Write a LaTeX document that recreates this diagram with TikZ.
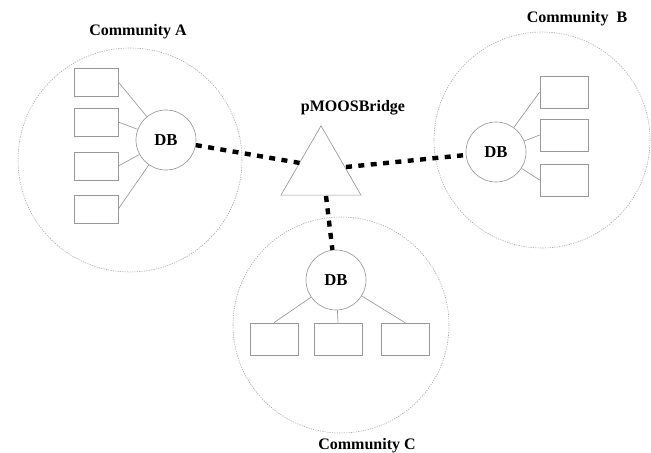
\documentclass[tikz,border=0pt]{standalone}
\usepackage{fontspec}
\setmainfont{Liberation Serif}
\usetikzlibrary{shapes.geometric}

\tikzset{
  community/.style={draw=gray!70, line width=0.45pt, dash pattern=on 0.9pt off 0.9pt},
  dbnode/.style={circle, draw=gray!80, line width=0.5pt, minimum size=45pt, inner sep=0pt, font=\fontsize{12.5}{14}\selectfont\bfseries},
  procA/.style={rectangle, draw=gray!80, line width=0.5pt, minimum width=33pt, minimum height=21pt, inner sep=0pt},
  proc/.style={rectangle, draw=gray!80, line width=0.5pt, minimum width=36pt, minimum height=24pt, inner sep=0pt},
  link/.style={draw=gray!80, line width=0.5pt},
  bridge/.style={regular polygon, regular polygon sides=3, draw=gray!80, line width=0.5pt, minimum size=69.3pt, inner sep=0pt},
  buslink/.style={draw=black, line width=3.3pt, dash pattern=on 4.5pt off 4.8pt},
  title/.style={font=\fontsize{12}{14}\selectfont\bfseries, inner sep=0pt}
}

\begin{document}
\begin{tikzpicture}[x=0.75pt, y=-0.75pt]
\useasboundingbox (0,0) rectangle (651,453);

% community boundaries
\draw[community] (130,160) circle[radius=112];
\draw[community] (542,140) circle[radius=108];
\draw[community] (341,325) circle[radius=108];

% community titles
\node[title] (labA) at (138,32) {Community A};
\node[title] (labB) at (577,19) {Community~~B};
\node[title] (labC) at (367,446) {Community C};
\node[title] (labBridge) at (353,108) {pMOOSBridge};

% bridge
\node[bridge] (bridge) at (321,172) {};
\coordinate (bL) at (300,163);
\coordinate (bR) at (346,167);
\coordinate (bB) at (326,196);

% community A
\node[dbnode] (dbA) at (166,140) {DB};
\node[procA] (a1) at (96,82) {};
\node[procA] (a2) at (96,122) {};
\node[procA] (a3) at (96,166) {};
\node[procA] (a4) at (96,209) {};
\foreach \n in {a1,a2,a3,a4} \draw[link] (\n.east) -- (dbA);

% community B
\node[dbnode] (dbB) at (496,152) {DB};
\node[proc] (b1) at (564,92) {};
\node[proc] (b2) at (564,135) {};
\node[proc] (b3) at (564,180) {};
\foreach \n in {b1,b2,b3} \draw[link] (\n.west) -- (dbB);

% community C
\node[dbnode] (dbC) at (336,280) {DB};
\node[proc] (c1) at (274,339) {};
\node[proc] (c2) at (338,339) {};
\node[proc] (c3) at (405,339) {};
\foreach \n in {c1,c2,c3} \draw[link] (\n.north) -- (dbC);

% bridge connections
\draw[buslink] (dbA) -- (bL);
\draw[buslink] (bR) -- (dbB);
\draw[buslink] (bB) -- (dbC);
\end{tikzpicture}
\end{document}
